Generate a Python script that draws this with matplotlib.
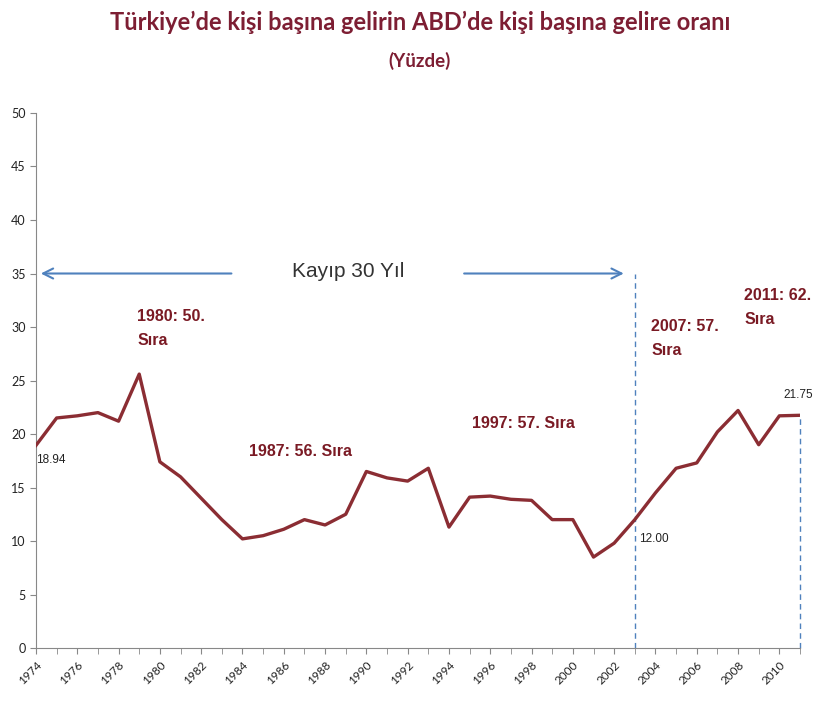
import matplotlib
matplotlib.use("Agg")
import matplotlib.pyplot as plt

# data
years = list(range(1974, 2012))
ratio = [18.94, 21.5, 21.7, 22.0, 21.2, 25.6, 17.4, 16.0, 14.0, 12.0,
         10.2, 10.5, 11.1, 12.0, 11.5, 12.5, 16.5, 15.9, 15.6, 16.8,
         11.3, 14.1, 14.2, 13.9, 13.8, 12.0, 12.0, 8.5, 9.8, 12.0,
         14.5, 16.8, 17.3, 20.2, 22.2, 19.0, 21.7, 21.75]
tick_years = list(range(1974, 2011, 2))
labelled = {1974: "18.94", 2003: "12.00", 2011: "21.75"}
notes = [(1978.9, 29.9, "1980: 50.\nSıra"),
         (1984.3, 18.4, "1987: 56. Sıra"),
         (1995.1, 21.0, "1997: 57. Sıra"),
         (2003.8, 28.9, "2007: 57.\nSıra"),
         (2008.3, 31.8, "2011: 62.\nSıra")]

line_col = "#8B2D33"
note_col = "#7A1A24"
title_col = "#7D1E33"
blue = "#4F81BD"
arial = "Liberation Sans"

fig = plt.figure(figsize=(8.14, 7.04), dpi=100)
ax = fig.add_axes([0.0442, 0.0795, 0.9386, 0.76])

ax.plot(years, ratio, color=line_col, lw=2.4, solid_joinstyle="round", zorder=3)

ax.set_xlim(1974, 2011)
ax.set_ylim(0, 50)
ax.set_yticks(range(0, 51, 5))
ax.set_xticks(years, minor=True)
ax.set_xticks(tick_years)
ax.set_xticklabels([str(y) for y in tick_years], rotation=45, ha="right",
                   rotation_mode="anchor", fontsize=8.5, family="Lato", color="#222222")
for lab in ax.get_yticklabels():
    lab.set_fontsize(9)
    lab.set_family("Lato")
    lab.set_color("#222222")
ax.tick_params(axis="x", which="both", length=4, color="#888888", pad=4)
ax.tick_params(axis="y", length=4, color="#888888")
for s in ["top", "right"]:
    ax.spines[s].set_visible(False)
for s in ["left", "bottom"]:
    ax.spines[s].set_color("#888888")

# dashed markers for 2003 and 2011
ax.plot([2003, 2003], [0, 35], color=blue, lw=1, ls=(0, (4, 3)))
ax.plot([2011, 2011], [0, 21.75], color=blue, lw=1, ls=(0, (4, 3)), clip_on=False)

# "Kayip 30 Yil" arrows
ax.annotate("", xy=(1974.1, 35), xytext=(1983.6, 35),
            arrowprops=dict(arrowstyle="->", color=blue, lw=1.5, mutation_scale=18))
ax.annotate("", xy=(2002.6, 35), xytext=(1994.6, 35),
            arrowprops=dict(arrowstyle="->", color=blue, lw=1.5, mutation_scale=18))
ax.text(1989.1, 35.2, "Kayıp 30 Yıl", ha="center", va="center", fontsize=15,
        family=arial, color="#333333")

# value labels
ax.text(1974.0, 17.6, labelled[1974], ha="left", va="center", fontsize=8.5,
        family=arial, color="#222222")
ax.text(2003.2, 10.2, labelled[2003], ha="left", va="center", fontsize=8.5,
        family=arial, color="#222222")
ax.text(2010.2, 23.6, labelled[2011], ha="left", va="center", fontsize=8.5,
        family=arial, color="#222222", clip_on=False)

for x, y, t in notes:
    ax.text(x, y, t, ha="left", va="center", fontsize=11.5, fontweight="bold",
            family=arial, color=note_col, linespacing=1.75)

fig.text(0.516, 0.968, "Türkiye’de kişi başına gelirin ABD’de kişi başına gelire oranı",
         ha="center", va="center", fontsize=17, fontweight="bold", family="Lato",
         color=title_col)
fig.text(0.516, 0.913, "(Yüzde)", ha="center", va="center", fontsize=13.5,
         fontweight="bold", family="Lato", color=title_col)

fig.savefig("out.png", dpi=100)
